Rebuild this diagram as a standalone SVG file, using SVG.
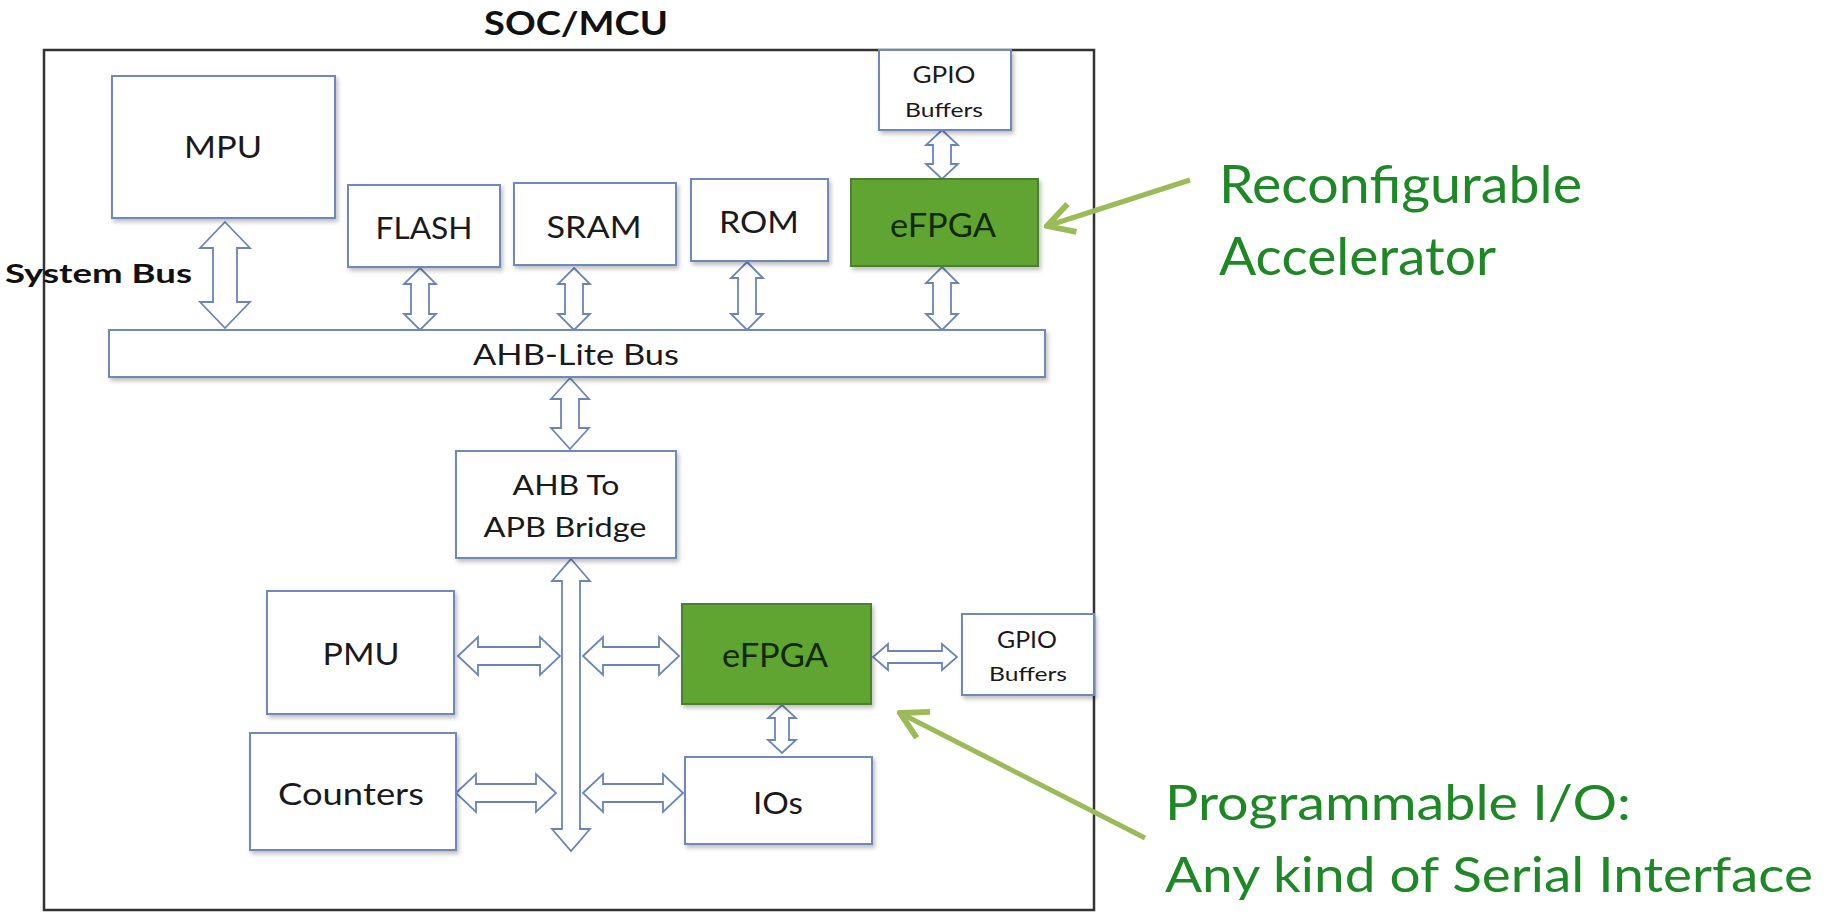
<svg xmlns="http://www.w3.org/2000/svg" width="1824" height="914" viewBox="0 0 1824 914">
<style>
.box{fill:#fff;stroke:#7089bd;stroke-width:2;filter:url(#sh)}
.fp{fill:#60a433;stroke:#4d7f32;stroke-width:2;filter:url(#sh)}
.lbl{font-family:Lato,"Open Sans",sans-serif;fill:#1a1a1a;text-anchor:middle}
.fpl{font-family:Lato,"Open Sans",sans-serif;fill:#12290b;text-anchor:middle}
.ba{fill:#fff;stroke:#6a84bb;stroke-width:1.8;stroke-linejoin:miter}
.gt{font-family:Lato,"Open Sans",sans-serif;fill:#1f8826}
.gl{stroke:#9bbb59;stroke-width:5;fill:none}
.bold{font-family:Lato,"Open Sans",sans-serif;font-weight:bold;fill:#111}
</style>
<defs>
<filter id="sh" x="-10%" y="-10%" width="125%" height="130%">
<feDropShadow dx="2" dy="3" stdDeviation="2" flood-color="#000" flood-opacity="0.25"/>
</filter>
<marker id="open" viewBox="0 0 12 12" refX="11" refY="6" markerWidth="7" markerHeight="7" orient="auto" markerUnits="strokeWidth">
<polyline points="2,1 11,6 2,11" fill="none" stroke="#9bbb59" stroke-width="2"/>
</marker>
</defs>
<rect width="1824" height="914" fill="#fff"/>

<g id="soc">
<rect x="44" y="50" width="1050" height="860" fill="#fff" stroke="#333" stroke-width="2.5"/>
<text class="bold" x="576" y="35" font-size="32" text-anchor="middle" textLength="184" lengthAdjust="spacingAndGlyphs">SOC/MCU</text>
</g>
<g id="sysbus-label">
<text class="bold" x="5" y="283" font-size="26" textLength="187" lengthAdjust="spacingAndGlyphs">System Bus</text>
</g>

<g id="connectors">
<polygon class="ba" points="225,222 250,248 237,248 237,302 250,302 225,328 200,302 213,302 213,248 200,248"/>
<polygon class="ba" points="420,268 436,284 429,284 429,314 436,314 420,330 404,314 411,314 411,284 404,284"/>
<polygon class="ba" points="574,268 590,284 583,284 583,314 590,314 574,330 558,314 565,314 565,284 558,284"/>
<polygon class="ba" points="747,262 763,278 756,278 756,314 763,314 747,330 731,314 738,314 738,278 731,278"/>
<polygon class="ba" points="942,267 958,283 951,283 951,314 958,314 942,330 926,314 933,314 933,283 926,283"/>
<polygon class="ba" points="942,130 958,145 951,145 951,164 958,164 942,179 926,164 933,164 933,145 926,145"/>
<polygon class="ba" points="570,378 589,399 579,399 579,428 589,428 570,449 551,428 561,428 561,399 551,399"/>
<polygon class="ba" points="571,559 590,581 580,581 580,829 590,829 571,851 552,829 562,829 562,581 552,581"/>
<polygon class="ba" points="458,656 478,637 478,647 540,647 540,637 560,656 540,675 540,665 478,665 478,675"/>
<polygon class="ba" points="583,656 603,637 603,647 659,647 659,637 679,656 659,675 659,665 603,665 603,675"/>
<polygon class="ba" points="456,793 476,774 476,784 536,784 536,774 556,793 536,812 536,802 476,802 476,812"/>
<polygon class="ba" points="583,793 603,774 603,784 663,784 663,774 683,793 663,812 663,802 603,802 603,812"/>
<polygon class="ba" points="873,657 888,644 888,651 942,651 942,644 957,657 942,670 942,663 888,663 888,670"/>
<polygon class="ba" points="782,705 796,718 789,718 789,740 796,740 782,753 768,740 775,740 775,718 768,718"/>
<line class="gl" x1="1190" y1="180" x2="1047" y2="226" marker-end="url(#open)"/>
<line class="gl" x1="1145" y1="838" x2="900" y2="713" marker-end="url(#open)"/>
</g>

<g id="mpu"><rect class="box" x="112" y="76" width="223" height="142"/><text class="lbl" x="223" y="158" font-size="31" textLength="78" lengthAdjust="spacingAndGlyphs">MPU</text></g>
<g id="flash"><rect class="box" x="348" y="185" width="152" height="82"/><text class="lbl" x="424" y="239" font-size="31" textLength="97" lengthAdjust="spacingAndGlyphs">FLASH</text></g>
<g id="sram"><rect class="box" x="514" y="183" width="162" height="82"/><text class="lbl" x="594" y="238" font-size="31" textLength="95" lengthAdjust="spacingAndGlyphs">SRAM</text></g>
<g id="rom"><rect class="box" x="691" y="179" width="137" height="82"/><text class="lbl" x="759" y="233" font-size="31" textLength="80" lengthAdjust="spacingAndGlyphs">ROM</text></g>
<g id="efpga-top"><rect class="fp" x="851" y="179" width="187" height="87"/><text class="fpl" x="943" y="237" font-size="32" textLength="106" lengthAdjust="spacingAndGlyphs">eFPGA</text></g>
<g id="gpio-top"><rect class="box" x="879" y="50" width="132" height="80"/><text class="lbl" x="944" y="83" font-size="23" textLength="63" lengthAdjust="spacingAndGlyphs">GPIO</text><text class="lbl" x="944" y="117" font-size="20" textLength="78" lengthAdjust="spacingAndGlyphs">Buffers</text></g>
<g id="ahb-lite"><rect class="box" x="109" y="330" width="936" height="47"/><text class="lbl" x="576" y="365" font-size="28" textLength="206" lengthAdjust="spacingAndGlyphs">AHB-Lite Bus</text></g>
<g id="bridge"><rect class="box" x="456" y="451" width="220" height="107"/><text class="lbl" x="566" y="495" font-size="27" textLength="107" lengthAdjust="spacingAndGlyphs">AHB To</text><text class="lbl" x="565" y="537" font-size="27" textLength="163" lengthAdjust="spacingAndGlyphs">APB Bridge</text></g>
<g id="pmu"><rect class="box" x="267" y="591" width="187" height="123"/><text class="lbl" x="361" y="665" font-size="31" textLength="77" lengthAdjust="spacingAndGlyphs">PMU</text></g>
<g id="counters"><rect class="box" x="250" y="733" width="206" height="117"/><text class="lbl" x="351" y="805" font-size="31" textLength="146" lengthAdjust="spacingAndGlyphs">Counters</text></g>
<g id="efpga-bottom"><rect class="fp" x="682" y="604" width="189" height="100"/><text class="fpl" x="775" y="667" font-size="32" textLength="106" lengthAdjust="spacingAndGlyphs">eFPGA</text></g>
<g id="gpio-bottom"><rect class="box" x="962" y="614" width="132" height="81"/><text class="lbl" x="1027" y="648" font-size="23" textLength="60" lengthAdjust="spacingAndGlyphs">GPIO</text><text class="lbl" x="1028" y="681" font-size="20" textLength="78" lengthAdjust="spacingAndGlyphs">Buffers</text></g>
<g id="ios"><rect class="box" x="685" y="757" width="187" height="87"/><text class="lbl" x="778" y="814" font-size="31" textLength="50" lengthAdjust="spacingAndGlyphs">IOs</text></g>

<g id="note-accel">
<text class="gt" x="1219" y="203" font-size="53" textLength="363" lengthAdjust="spacingAndGlyphs">Reconfigurable</text>
<text class="gt" x="1219" y="275" font-size="53" textLength="277" lengthAdjust="spacingAndGlyphs">Accelerator</text>
</g>
<g id="note-io">
<text class="gt" x="1165" y="820" font-size="49" textLength="466" lengthAdjust="spacingAndGlyphs">Programmable I/O:</text>
<text class="gt" x="1165" y="892" font-size="49" textLength="648" lengthAdjust="spacingAndGlyphs">Any kind of Serial Interface</text>
</g>
</svg>
